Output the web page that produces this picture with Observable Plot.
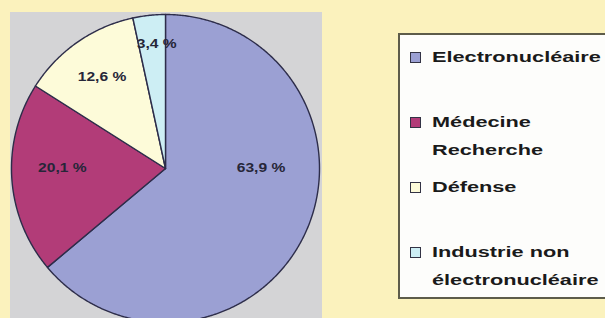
<!DOCTYPE html>
<html>
<head>
<meta charset="utf-8">
<script src="https://cdn.jsdelivr.net/npm/d3@7"></script>
<script src="https://cdn.jsdelivr.net/npm/@observablehq/plot@0.6"></script>
<style>
  html, body { margin: 0; padding: 0; }
  body { width: 605px; height: 318px; overflow: hidden; background: #fbf2bd; position: relative; font-family: "Liberation Sans", Arial, sans-serif; }
  #plotbg { position: absolute; left: 10px; top: 12px; width: 312px; height: 320px; background: #d4d4d6; }
  #chart { position: absolute; left: 0; top: 0; }
  #legend { position: absolute; left: 398px; top: 33px; width: 220px; height: 262px; background: #fdfdfb; border: 2px solid #5d5c4a; box-sizing: content-box; }
  .item { position: absolute; left: 0; }
  .sw { position: absolute; left: 10px; width: 9px; height: 9px; border: 1px solid #333344; }
  .lab { position: absolute; left: 32px; font-weight: bold; font-size: 14px; color: #1a1a1a; white-space: nowrap; transform: scaleX(1.55); transform-origin: 0 50%; line-height: 28px; }
</style>
</head>
<body>
<div id="plotbg"></div>
<div id="chart"></div>
<div id="legend"></div>
<script>
// ---- data ----
const categories = ["Electronucléaire", "Médecine Recherche", "Défense", "Industrie non électronucléaire"];
const legendLines = [["Electronucléaire"], ["Médecine", "Recherche"], ["Défense"], ["Industrie non", "électronucléaire"]];
const values = [63.9, 20.1, 12.6, 3.4];
const valueLabels = ["63,9 %", "20,1 %", "12,6 %", "3,4 %"];
const colors = ["#9ba0d3", "#b23c78", "#fdfbd9", "#cdeef4"];

// ---- layout (pixels) ----
const W = 605, H = 318;
const cx = 165, cy = 168, R = 154;
// label placement: fraction of radius, and optional angle override (degrees clockwise from top)
const labelLayout = [{k: 0.62, angle: 90}, {k: 0.67, angle: 270}, {k: 0.72}, {k: 0.81, angle: 356}];

// ---- build slices from data ----
const total = d3.sum(values);
let acc = 0;
const slices = values.map((v, i) => {
  const a0 = acc / total * 360;
  acc += v;
  const a1 = acc / total * 360;
  return {i, cat: categories[i], a0, a1, mid: (a0 + a1) / 2};
});
const toXY = (deg, r) => {
  const t = deg * Math.PI / 180;
  return {x: r * Math.sin(t), y: r * Math.cos(t)};
};
const marks = [];
slices.forEach(s => {
  const pts = [{x: 0, y: 0}];
  const n = Math.max(4, Math.ceil((s.a1 - s.a0) / 0.5));
  for (let j = 0; j <= n; j++) pts.push(toXY(s.a0 + (s.a1 - s.a0) * j / n, 1));
  pts.push({x: 0, y: 0});
  marks.push(Plot.line(pts, {x: "x", y: "y", fill: colors[s.i], stroke: "#2d2d4a", strokeWidth: 1.4, strokeLinejoin: "round"}));
});
const labelData = slices.map(s => {
  const L = labelLayout[s.i];
  const p = toXY(L.angle !== undefined ? L.angle : s.mid, L.k);
  return {x: p.x, y: p.y, text: valueLabels[s.i]};
});
marks.push(Plot.text(labelData, {x: "x", y: "y", text: "text", fill: "#262638", fontSize: 12, fontWeight: "bold", fontFamily: "Liberation Sans, Arial, sans-serif", className: "pielabel"}));

const chart = Plot.plot({
  width: W, height: H,
  marginLeft: cx - R, marginRight: W - (cx + R),
  marginTop: cy - R, marginBottom: 0,
  x: {domain: [-1, 1], axis: null},
  y: {domain: [-(H - cy) / R, 1], axis: null},
  style: {background: "transparent", overflow: "visible"},
  marks
});
document.getElementById("chart").appendChild(chart);

// widen label glyphs like the original
d3.select(chart).selectAll(".pielabel text").each(function() {
  const el = d3.select(this);
  const t = el.attr("transform");
  if (t && t.includes("translate")) el.attr("transform", t + " scale(1.3,1)");
  else {
    const x = +el.attr("x") || 0, y = +el.attr("y") || 0;
    el.attr("transform", `translate(${x},${y}) scale(1.3,1) translate(${-x},${-y})`);
  }
});

// ---- legend ----
const legend = document.getElementById("legend");
const legTop = 33, firstCenter = 57, slot = 65, lineH = 28;
legendLines.forEach((lines, i) => {
  const c = firstCenter + i * slot - legTop - 2;
  const sw = document.createElement("div");
  sw.className = "sw";
  sw.style.top = (c - 5) + "px";
  sw.style.background = colors[i];
  legend.appendChild(sw);
  lines.forEach((ln, j) => {
    const d = document.createElement("div");
    d.className = "lab";
    d.textContent = ln;
    d.style.top = (c - lineH / 2 + j * lineH) + "px";
    legend.appendChild(d);
  });
});
</script>
</body>
</html>
